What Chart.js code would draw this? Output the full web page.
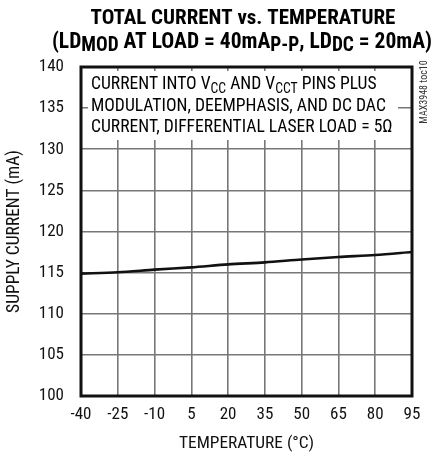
<!DOCTYPE html>
<html>
<head>
<meta charset="utf-8">
<script src="https://cdn.jsdelivr.net/npm/chart.js@4"></script>
<style>
  html, body { margin: 0; padding: 0; background: #fff; }
  #wrap { width: 432px; height: 458px; position: relative; }
</style>
</head>
<body>
<div id="wrap"><canvas id="chart" width="432" height="458"></canvas></div>
<script>
const temps = [-40, -25, -10, 5, 20, 35, 50, 65, 80, 95];
const supplyCurrent = [114.88, 115.04, 115.36, 115.64, 116.0, 116.25, 116.6, 116.9, 117.15, 117.5];
const xTicks = [-40, -25, -10, 5, 20, 35, 50, 65, 80, 95];
const yTicks = [100, 105, 110, 115, 120, 125, 130, 135, 140];

const FONT = "'Roboto Condensed', 'Liberation Sans', Arial, sans-serif";

// draws text runs with subscripts, centered at cx
function drawRuns(ctx, runs, cx, y, size, weight) {
    const sub = size * 0.9;
    let total = 0;
    runs.forEach(r => {
        ctx.font = `${weight} ${r.sub ? sub : size}px ${FONT}`;
        total += ctx.measureText(r.t).width;
    });
    let x = cx - total / 2;
    ctx.textAlign = 'left';
    runs.forEach(r => {
        ctx.font = `${weight} ${r.sub ? sub : size}px ${FONT}`;
        ctx.fillText(r.t, x, r.sub ? y + size * 0.15 : y);
        x += ctx.measureText(r.t).width;
    });
}

function drawLeft(ctx, runs, x, y, size) {
    const sub = size * 0.78;
    runs.forEach(r => {
        ctx.font = `${r.sub ? sub : size}px ${FONT}`;
        ctx.fillText(r.t, x, r.sub ? y + size * 0.2 : y);
        x += ctx.measureText(r.t).width;
    });
}

const decor = {
    id: 'decor',
    afterDraw(chart) {
        const ctx = chart.ctx;
        const a = chart.chartArea;
        ctx.save();
        ctx.fillStyle = '#000';
        ctx.textBaseline = 'alphabetic';

        // title
        drawRuns(ctx, [{t: 'TOTAL CURRENT vs. TEMPERATURE'}], 243, 24, 21, 'bold');
        drawRuns(ctx, [{t: '(LD'}, {t: 'MOD', sub: true}, {t: ' AT LOAD = 40mA'}, {t: 'P-P', sub: true},
            {t: ', LD'}, {t: 'DC', sub: true}, {t: ' = 20mA)'}], 242, 48, 21.5, 'bold');

        // annotation box
        ctx.fillStyle = '#fff';
        ctx.fillRect(88, 71, 310, 69);
        ctx.fillStyle = '#000';
        ctx.textAlign = 'left';
        drawLeft(ctx, [{t: 'CURRENT INTO V'}, {t: 'CC', sub: true}, {t: ' AND V'}, {t: 'CCT', sub: true}, {t: ' PINS PLUS'}], 91, 89, 17.6);
        drawLeft(ctx, [{t: 'MODULATION, DEEMPHASIS, AND DC DAC'}], 91, 111, 17.6);
        drawLeft(ctx, [{t: 'CURRENT, DIFFERENTIAL LASER LOAD = 5Ω'}], 91, 132, 17.6);

        // watermark
        ctx.save();
        ctx.translate(427, 92);
        ctx.rotate(-Math.PI / 2);
        ctx.textAlign = 'center';
        ctx.font = `10px ${FONT}`;
        ctx.fillStyle = '#333';
        ctx.fillText('MAX3948 toc10', 0, 0);
        ctx.restore();

        // frame
        ctx.strokeStyle = '#111';
        ctx.lineWidth = 3;
        ctx.strokeRect(a.left, a.top, a.right - a.left, a.bottom - a.top);
        ctx.restore();
    }
};

new Chart(document.getElementById('chart'), {
    type: 'line',
    data: {
        labels: temps,
        datasets: [{
            data: temps.map((t, i) => ({x: t, y: supplyCurrent[i]})),
            borderColor: '#111',
            borderWidth: 2.6,
            pointRadius: 0,
            tension: 0.3,
            fill: false
        }]
    },
    options: {
        responsive: false,
        animation: false,
        events: [],
        layout: { padding: { left: 0, top: 67, right: 20, bottom: 0 } },
        plugins: { legend: { display: false }, tooltip: { enabled: false }, title: { display: false } },
        scales: {
            x: {
                type: 'linear',
                min: -40,
                max: 95,
                afterBuildTicks: s => { s.ticks = xTicks.map(v => ({value: v})); },
                afterFit: s => { s.height = 62; },
                grid: { color: '#777', lineWidth: 1.6, drawTicks: false },
                border: { display: false },
                ticks: { color: '#111', font: { family: FONT, size: 17 }, padding: 9, maxRotation: 0 },
                title: { display: true, text: 'TEMPERATURE (°C)', color: '#111', font: { family: FONT, size: 17.4 }, padding: { top: 1 } }
            },
            y: {
                min: 100,
                max: 140,
                afterBuildTicks: s => { s.ticks = yTicks.map(v => ({value: v})); },
                afterFit: s => { s.width = 81; },
                grid: { color: '#777', lineWidth: 1.6, drawTicks: false },
                border: { display: false },
                ticks: { color: '#111', font: { family: FONT, size: 17 }, padding: 17 },
                title: { display: true, text: 'SUPPLY CURRENT (mA)', color: '#111', font: { family: FONT, size: 17.5 }, padding: { bottom: 1 } }
            }
        }
    },
    plugins: [decor]
});
</script>
</body>
</html>
